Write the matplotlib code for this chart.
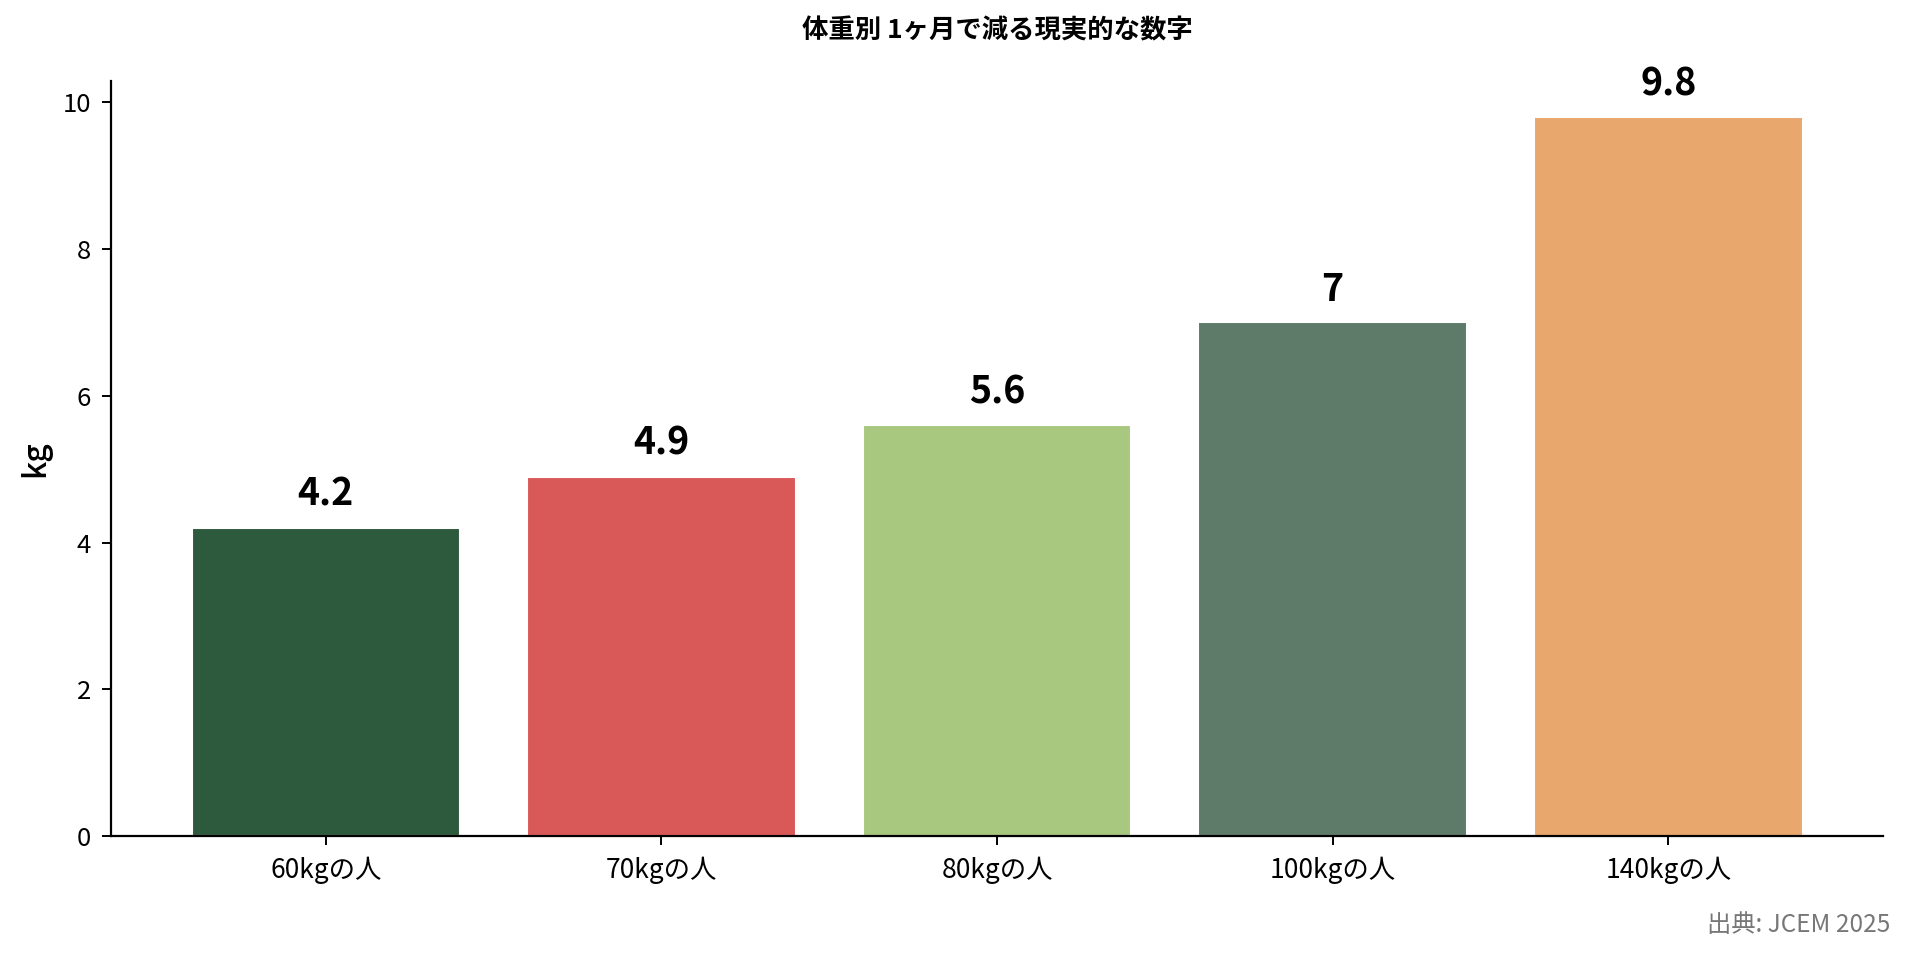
import matplotlib
matplotlib.use("Agg")
import matplotlib.pyplot as plt

plt.rcParams['font.family'] = ['Noto Sans CJK JP', 'DejaVu Sans']

categories = ["60kgの人", "70kgの人", "80kgの人", "100kgの人", "140kgの人"]
values = [4.2, 4.9, 5.6, 7, 9.8]
colors = ["#2d5a3d", "#d95858", "#a8c880", "#5e7a68", "#e8a76c"]
title = "体重別 1ヶ月で減る現実的な数字"
ylabel = "kg"
source = "出典: JCEM 2025"

fig = plt.figure(figsize=(19.1, 9.59), dpi=100)
ax = fig.add_axes([0.0581, 0.1282, 0.9859 - 0.0581, 0.9155 - 0.1282])

x = list(range(len(categories)))
bars = ax.bar(x, values, width=0.8, color=colors, edgecolor="white", linewidth=1.5)
for b, v in zip(bars, values):
    lbl = f"{v:g}"
    ax.annotate(lbl, (b.get_x() + b.get_width() / 2, b.get_height()),
                xytext=(0, 10), textcoords="offset points",
                ha="center", va="bottom", fontsize=27, fontweight="bold")

ax.set_xticks(x)
ax.set_xticklabels(categories)
ax.set_xlim(-0.64, 4.64)
ax.set_ylim(0, 10.29)
ax.set_yticks([0, 2, 4, 6, 8, 10])
ax.tick_params(axis="both", labelsize=18.5, length=6.5, width=1.4, pad=8)
ax.tick_params(axis="x", labelsize=19)
ax.set_ylabel(ylabel, fontsize=23, labelpad=8, fontweight="medium")
for s in ["top", "right"]:
    ax.spines[s].set_visible(False)
for s in ["left", "bottom"]:
    ax.spines[s].set_linewidth(1.6)

fig.text(0.522, 0.968, title, ha="center", va="center", fontsize=19, fontweight="bold")
fig.text(0.9895, 0.035, source, ha="right", va="center", fontsize=17.5, color="#777777")

fig.savefig("out.png", dpi=100)
